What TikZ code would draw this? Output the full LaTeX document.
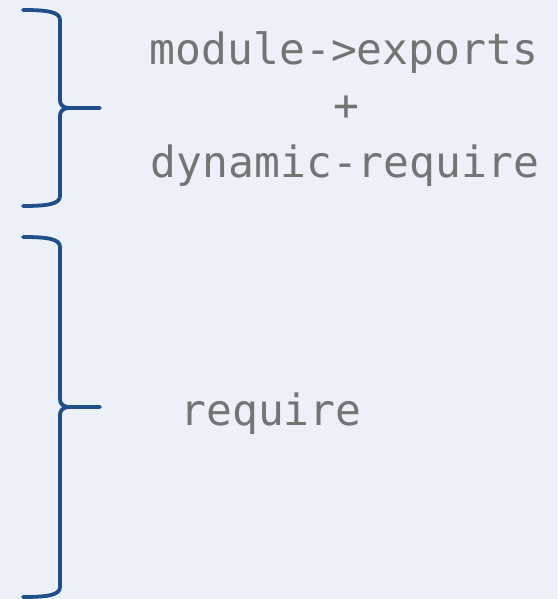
\documentclass[tikz,border=0pt]{standalone}
\usepackage{fontspec}
\setmonofont{DejaVu Sans Mono}
\definecolor{bgpale}{HTML}{ECF0F9}
\definecolor{bracecol}{HTML}{1F4E89}
\definecolor{labelgray}{HTML}{747474}
\begin{document}
\begin{tikzpicture}[x=1pt,y=1pt,
  bracepath/.style={draw=bracecol,line width=3.8pt,line cap=round,line join=miter},
  label/.style={inner sep=0pt,anchor=base,text=labelgray,font=\ttfamily\fontsize{43}{50}\selectfont}]
  % background
  \fill[bgpale] (0,0) rectangle (558,-599);
  \useasboundingbox (0,0) rectangle (558,-599);

  % upper brace
  \coordinate (b1top) at (23,-10);
  \coordinate (b1tip) at (100,-108);
  \coordinate (b1bot) at (23,-206);
  \draw[bracepath] (b1top) .. controls (48,-10) and (60,-12) .. (60,-20)
    -- (60,-100) .. controls (60,-104) and (62,-108) .. (70,-108) -- (b1tip)
    (70,-108) .. controls (62,-108) and (60,-112) .. (60,-116)
    -- (60,-196) .. controls (60,-204) and (48,-206) .. (b1bot);

  % lower brace
  \coordinate (b2top) at (23,-237);
  \coordinate (b2tip) at (100,-407);
  \coordinate (b2bot) at (23,-597);
  \draw[bracepath] (b2top) .. controls (48,-237) and (60,-239) .. (60,-247)
    -- (60,-399) .. controls (60,-403) and (62,-407) .. (70,-407) -- (b2tip)
    (70,-407) .. controls (62,-407) and (60,-411) .. (60,-415)
    -- (60,-587) .. controls (60,-595) and (48,-597) .. (b2bot);

  % labels
  \node[label] (mexp) at (344,-65) {module->exports};
  \node[label] (plus) at (346,-121) {+};
  \node[label] (dynreq) at (345,-177) {dynamic-require};
  \node[label] (req) at (271,-425) {require};
\end{tikzpicture}
\end{document}
